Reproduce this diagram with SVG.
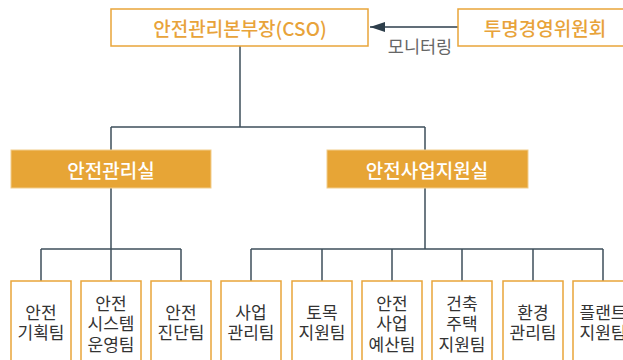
<svg xmlns="http://www.w3.org/2000/svg" width="623" height="360" viewBox="0 0 623 360">
<defs>
<style>
.t{font-family:"Noto Sans CJK KR","Noto Sans",sans-serif;text-anchor:middle;dominant-baseline:central}
.ob{fill:#fff;stroke:#e9a53a;stroke-width:1.5}
.mb{fill:#e7a536;stroke:#f2cd8c;stroke-width:1}
.ot{fill:#e8a33a;font-size:19px;font-weight:500}
.wt{fill:#fff;font-size:19px;font-weight:500}
.bt{fill:#333;font-size:17px}
.lt{fill:#666;font-size:17.5px}
.c{fill:none;stroke:#3e4f5b;stroke-width:1.5}
</style>
<marker id="ah" markerWidth="16" markerHeight="10" refX="15" refY="5" orient="auto" markerUnits="userSpaceOnUse">
<path d="M0,0 L15,5 L0,10 Z" fill="#2d3e4b"/>
</marker>
</defs>
<g id="connectors">
<path class="c" d="M240,46 V127 M111,127 H425 M111,127 V150 M425,127 V150"/>
<path class="c" d="M111,188 V281 M41,249 H181 M41,249 V281 M181,249 V281"/>
<path class="c" d="M425,188 V249 M251,249 H603 M251,249 V281 M322,249 V281 M392,249 V281 M462,249 V281 M533,249 V281 M603,249 V281"/>
<line x1="458" y1="27" x2="370" y2="27" stroke="#2d3e4b" stroke-width="1.5" marker-end="url(#ah)"/>
<text class="t lt" x="420" y="45">모니터링</text>
</g>
<g id="cso"><rect class="ob" x="111" y="9" width="257" height="37"/><text class="t ot" x="240" y="27.5">안전관리본부장(CSO)</text></g>
<g id="committee"><rect class="ob" x="458" y="9" width="174" height="37"/><text class="t ot" x="545" y="27.5">투명경영위원회</text></g>
<g id="safety-mgmt"><rect class="mb" x="11" y="150" width="200" height="38"/><text class="t wt" x="111" y="169">안전관리실</text></g>
<g id="safety-biz"><rect class="mb" x="327" y="150" width="201" height="38"/><text class="t wt" x="427" y="169">안전사업지원실</text></g>
<g id="team1"><rect class="ob" x="11" y="281" width="60" height="82"/><text class="t bt" x="41"><tspan x="41" y="310.5">안전</tspan><tspan x="41" y="331">기획팀</tspan></text></g>
<g id="team2"><rect class="ob" x="81" y="281" width="60" height="82"/><text class="t bt" x="111"><tspan x="111" y="301.5">안전</tspan><tspan x="111" y="322">시스템</tspan><tspan x="111" y="342.5">운영팀</tspan></text></g>
<g id="team3"><rect class="ob" x="151" y="281" width="60" height="82"/><text class="t bt" x="181"><tspan x="181" y="310.5">안전</tspan><tspan x="181" y="331">진단팀</tspan></text></g>
<g id="team4"><rect class="ob" x="221" y="281" width="60" height="82"/><text class="t bt" x="251"><tspan x="251" y="310.5">사업</tspan><tspan x="251" y="331">관리팀</tspan></text></g>
<g id="team5"><rect class="ob" x="292" y="281" width="60" height="82"/><text class="t bt" x="322"><tspan x="322" y="310.5">토목</tspan><tspan x="322" y="331">지원팀</tspan></text></g>
<g id="team6"><rect class="ob" x="362" y="281" width="60" height="82"/><text class="t bt" x="392"><tspan x="392" y="301.5">안전</tspan><tspan x="392" y="322">사업</tspan><tspan x="392" y="342.5">예산팀</tspan></text></g>
<g id="team7"><rect class="ob" x="432" y="281" width="60" height="82"/><text class="t bt" x="462"><tspan x="462" y="301.5">건축</tspan><tspan x="462" y="322">주택</tspan><tspan x="462" y="342.5">지원팀</tspan></text></g>
<g id="team8"><rect class="ob" x="503" y="281" width="60" height="82"/><text class="t bt" x="533"><tspan x="533" y="310.5">환경</tspan><tspan x="533" y="331">관리팀</tspan></text></g>
<g id="team9"><rect class="ob" x="573" y="281" width="60" height="82"/><text class="t bt" x="603"><tspan x="603" y="310.5">플랜트</tspan><tspan x="603" y="331">지원팀</tspan></text></g>
</svg>
